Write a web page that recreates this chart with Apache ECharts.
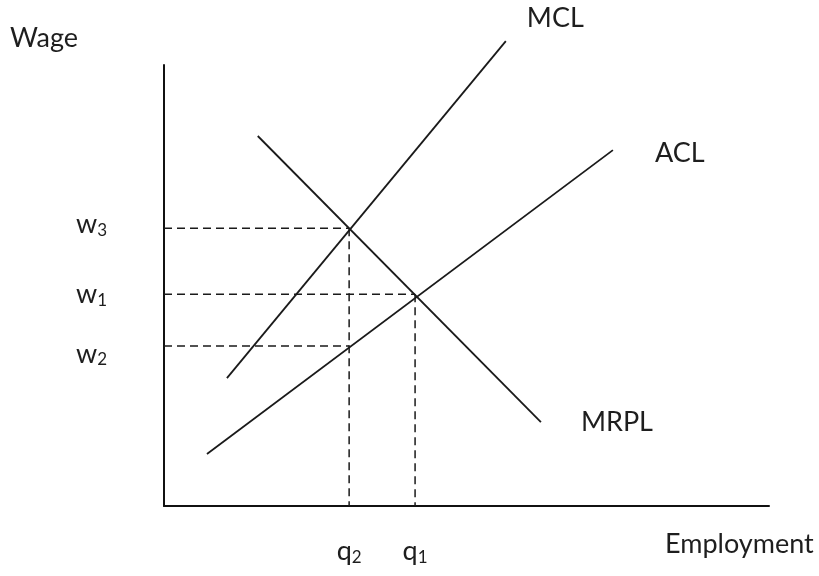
<!DOCTYPE html>
<html>
<head>
<meta charset="utf-8">
<script src="https://cdn.jsdelivr.net/npm/echarts@6/dist/echarts.min.js"></script>
<style>html,body{margin:0;padding:0;background:#fff;}#c{width:819px;height:576px;}</style>
</head>
<body>
<div id="c"></div>
<script>
// Curves (employment, wage) in chart units, axes 0..100
const mcl = [[10.4, 29.0], [56.5, 105.4]];
const acl = [[7.1, 11.8], [74.2, 80.7]];
const mrpl = [[15.5, 83.9], [62.3, 19.0]];
// Wage levels and employment levels
const wageValues = [36.3, 48.0, 63.0];
const wageSubs = ['2', '1', '3'];
const qValues = [30.6, 41.5];
const qSubs = ['2', '1'];
// Guides: [wage, employment] -> dashed from axes to point
const guidePoints = [[63.0, 30.6], [48.0, 41.5], [36.3, 30.6]];
const verticalGuides = [[63.0, 30.6], [48.0, 41.5]];

const FONT = 'Lato';
const TXT = '#1e1e1e';
const LINE = '#1a1a1a';

const series = [];
function curve(name, data, off) {
  series.push({
    name: name, type: 'line', data: data, symbol: 'none', clip: false, silent: true,
    lineStyle: { color: LINE, width: 1.8 },
    endLabel: { show: true, formatter: name, fontFamily: FONT, fontSize: 27, color: TXT, offset: off }
  });
}
curve('MCL', mcl, [13, -23]);
curve('ACL', acl, [34, 3]);
curve('MRPL', mrpl, [32, 0]);
guidePoints.forEach(g => {
  series.push({ type: 'line', data: [[0, g[0]], [g[1], g[0]]], symbol: 'none', silent: true, clip: false,
    lineStyle: { color: LINE, width: 1.5, type: [8, 5] } });
});
verticalGuides.forEach(g => {
  series.push({ type: 'line', data: [[g[1], g[0]], [g[1], 0]], symbol: 'none', silent: true, clip: false,
    lineStyle: { color: LINE, width: 1.5, type: [8, 5] } });
});

const rich = {
  m: { fontFamily: FONT, fontSize: 27, color: TXT },
  s: { fontFamily: FONT, fontSize: 17, color: TXT, padding: [12, 0, 0, 0] },
  // lowered variant (text moved down ~8px)
  mD: { fontFamily: FONT, fontSize: 27, color: TXT, padding: [16, 0, 0, 0] },
  sD: { fontFamily: FONT, fontSize: 17, color: TXT, padding: [28, 0, 0, 0] },
  // raised variant (text moved up ~4px)
  mU: { fontFamily: FONT, fontSize: 27, color: TXT, padding: [0, 0, 8, 0] },
  sU: { fontFamily: FONT, fontSize: 17, color: TXT, padding: [12, 0, 8, 0] }
};
const wageLabelStyle = ['D', '', 'U'];

const chart = echarts.init(document.getElementById('c'), null, { renderer: 'canvas' });
chart.setOption({
  animation: false,
  backgroundColor: '#fff',
  grid: { left: 164, top: 65, right: 50, bottom: 70, outerBoundsMode: 'none', containLabel: false },
  xAxis: {
    type: 'value', min: 0, max: 100,
    name: 'Employment', nameLocation: 'end', nameGap: -104,
    nameTextStyle: { fontFamily: FONT, fontSize: 27, color: TXT, align: 'left', verticalAlign: 'top', padding: [25, 0, 0, 0] },
    axisLine: { show: true, lineStyle: { color: '#111', width: 2 } },
    axisTick: { show: false }, splitLine: { show: false },
    axisLabel: {
      customValues: qValues, margin: 31,
      formatter: v => '{m|q}{s|' + qSubs[qValues.indexOf(v)] + '}', rich: rich
    }
  },
  yAxis: {
    type: 'value', min: 0, max: 100,
    name: 'Wage', nameLocation: 'end', nameGap: 27,
    nameTextStyle: { fontFamily: FONT, fontSize: 27, color: TXT, align: 'right', verticalAlign: 'middle', padding: [0, 86, 0, 0] },
    axisLine: { show: true, lineStyle: { color: '#111', width: 2 } },
    axisTick: { show: false }, splitLine: { show: false },
    axisLabel: {
      customValues: wageValues, margin: 57,
      formatter: v => {
        const i = wageValues.indexOf(v);
        const k = wageLabelStyle[i];
        return '{m' + k + '|w}{s' + k + '|' + wageSubs[i] + '}';
      },
      rich: rich
    }
  },
  series: series
});
</script>
</body>
</html>
